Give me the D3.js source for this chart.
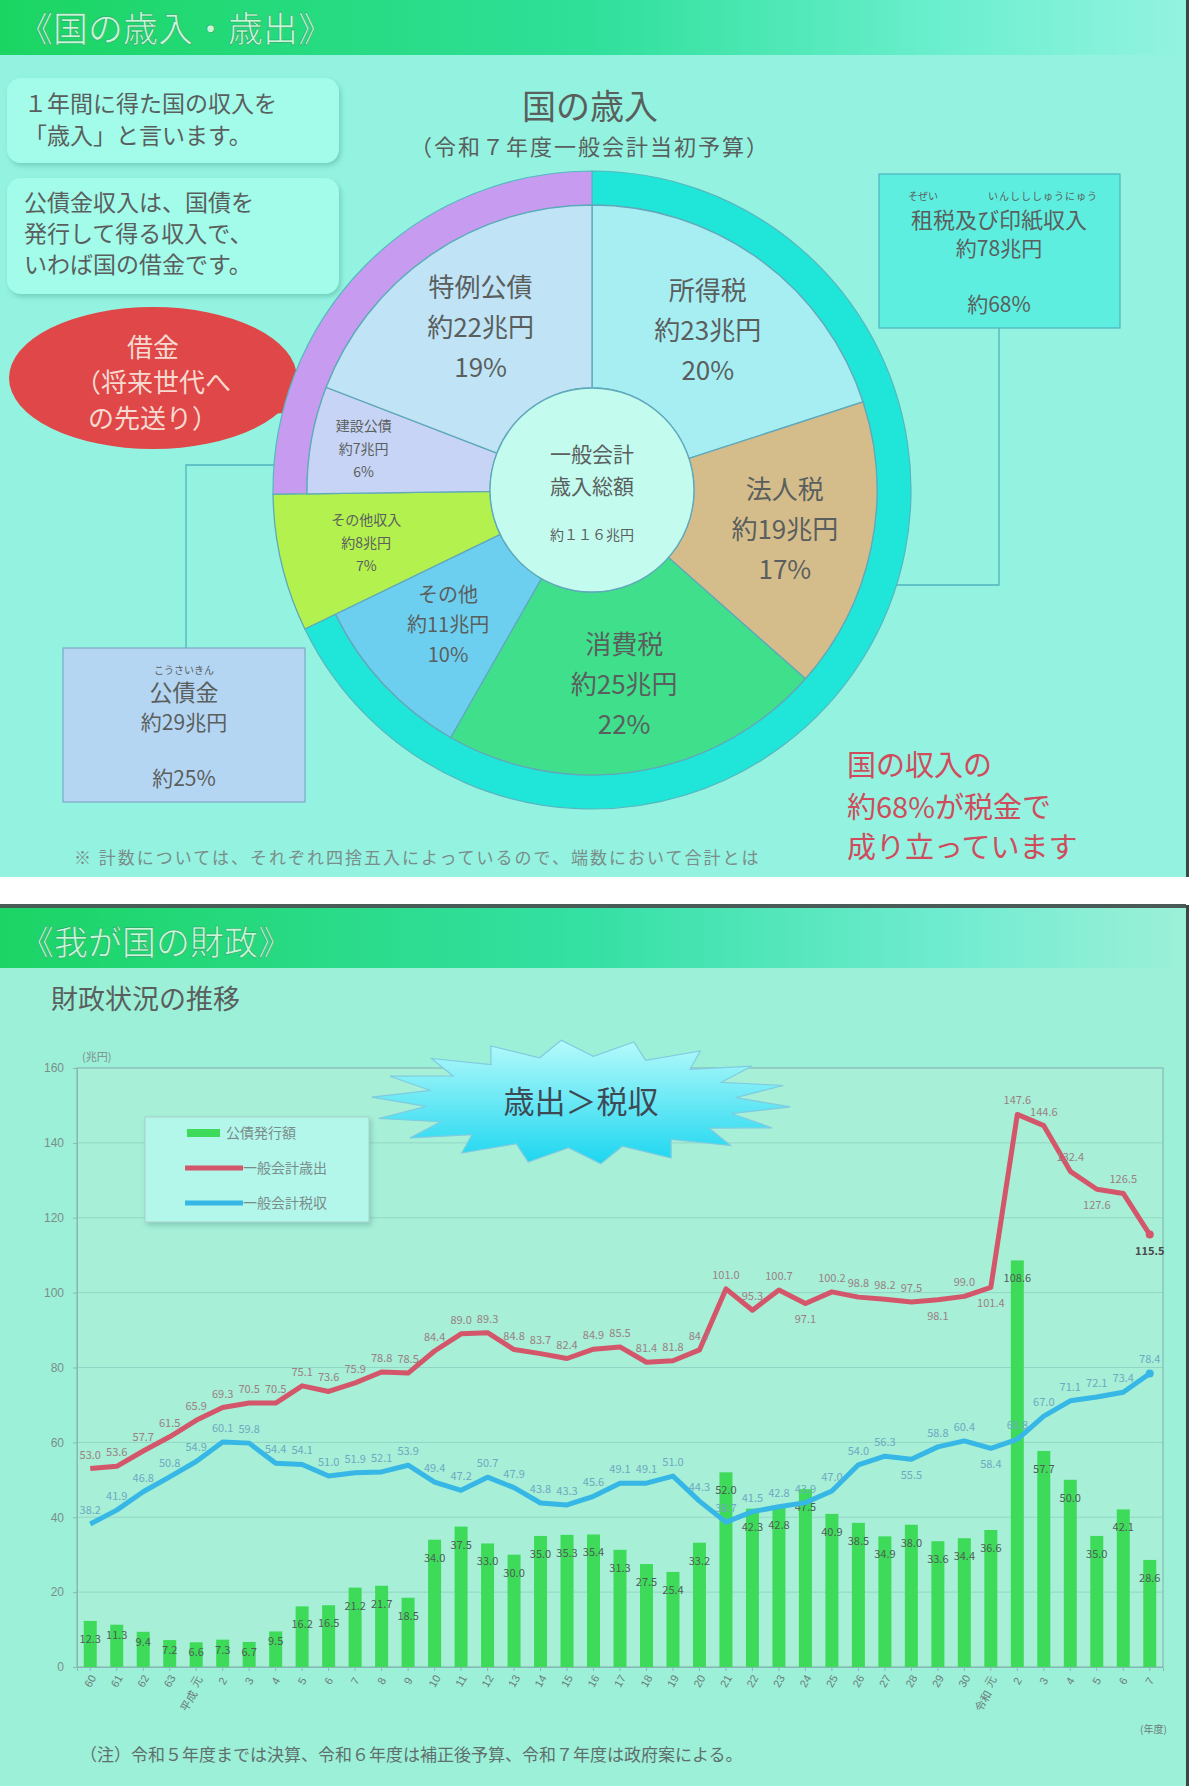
<!DOCTYPE html>
<html><head><meta charset="utf-8">
<script src="https://cdn.jsdelivr.net/npm/d3@7"></script>
<style>
html,body{margin:0;padding:0;background:#fff;}
svg{display:block;font-family:"Noto Sans CJK JP","Noto Sans",sans-serif;}
</style></head><body>
<svg id="c" width="1200" height="1786"></svg>
<script>
// ===== Data: 国の歳入 (令和7年度一般会計当初予算) =====
const revCategories = ["所得税","法人税","消費税","その他","その他収入","建設公債","特例公債"];
const revAmounts    = [23, 19, 25, 11, 8, 7, 22];
const revPercents   = ["20%","17%","22%","10%","7%","6%","19%"];
const revGroups     = ["tax","tax","tax","tax","other","bond","bond"];

// ===== Data: 財政状況の推移 (兆円) =====
const yearLabels = ["60","61","62","63","元","2","3","4","5","6","7","8","9","10","11","12","13","14","15","16","17","18","19","20","21","22","23","24","25","26","27","28","29","30","元","2","3","4","5","6","7"];
const eraLabels  = ["","","","","平成","","","","","","","","","","","","","","","","","","","","","","","","","","","","","","令和","","","","","",""];
const expenditure = [53.0,53.6,57.7,61.5,65.9,69.3,70.5,70.5,75.1,73.6,75.9,78.8,78.5,84.4,89.0,89.3,84.8,83.7,82.4,84.9,85.5,81.4,81.8,84.7,101.0,95.3,100.7,97.1,100.2,98.8,98.2,97.5,98.1,99.0,101.4,147.6,144.6,132.4,127.6,126.5,115.5];
const taxRevenue  = [38.2,41.9,46.8,50.8,54.9,60.1,59.8,54.4,54.1,51.0,51.9,52.1,53.9,49.4,47.2,50.7,47.9,43.8,43.3,45.6,49.1,49.1,51.0,44.3,38.7,41.5,42.8,43.9,47.0,54.0,56.3,55.5,58.8,60.4,58.4,60.8,67.0,71.1,72.1,73.4,78.4];
const bondIssuance= [12.3,11.3,9.4,7.2,6.6,7.3,6.7,9.5,16.2,16.5,21.2,21.7,18.5,34.0,37.5,33.0,30.0,35.0,35.3,35.4,31.3,27.5,25.4,33.2,52.0,42.3,42.8,47.5,40.9,38.5,34.9,38.0,33.6,34.4,36.6,108.6,57.7,50.0,35.0,42.1,28.6];
const yTicks = [0,20,40,60,80,100,120,140,160];
const seriesNames = ["公債発行額","一般会計歳出","一般会計税収"];

// ===== Drawing =====
const svg = d3.select("#c");
const defs = svg.append("defs");
const FONT_GREY = "#5a5f5e";

function lg(id, stops, x2="100%", y2="0%") {
  const g = defs.append("linearGradient").attr("id", id).attr("x1","0%").attr("y1","0%").attr("x2",x2).attr("y2",y2);
  stops.forEach(s => g.append("stop").attr("offset", s[0]).attr("stop-color", s[1]));
}
lg("hdr1", [["0%","#1bd562"],["50%","#2fe09a"],["80%","#6cefcf"],["100%","#93f3e0"]]);
lg("hdr2", [["0%","#1bd464"],["50%","#35e0a4"],["80%","#70ecd0"],["100%","#9cf0d8"]]);
lg("burst", [["0%","#b6fafa"],["100%","#1cd6f0"]], "0%", "100%");
const sh = defs.append("filter").attr("id","shadow").attr("x","-10%").attr("y","-10%").attr("width","130%").attr("height","140%");
sh.append("feDropShadow").attr("dx",2).attr("dy",3).attr("stdDeviation",2.5).attr("flood-color","#3a8f80").attr("flood-opacity",0.35);
defs.append("clipPath").attr("id","clipTop").append("rect").attr("x",0).attr("y",0).attr("width",1186).attr("height",877);

// ---------- TOP SLIDE ----------
const topS = svg.append("g").attr("clip-path","url(#clipTop)");
topS.append("rect").attr("x",0).attr("y",0).attr("width",1186).attr("height",877).attr("fill","#93f3e0");
topS.append("rect").attr("x",0).attr("y",0).attr("width",1186).attr("height",55).attr("fill","url(#hdr1)");
topS.append("text").attr("x",18).attr("y",42).attr("font-size",35).attr("fill","#c6f7d6")
  .attr("stroke","#2aa868").attr("stroke-width",0.6).text("《国の歳入・歳出》");
svg.append("rect").attr("x",1186).attr("y",0).attr("width",3).attr("height",877).attr("fill","#3c4444");

// info boxes
const boxes = [
  {x:7,y:78,w:332,h:85,lines:["１年間に得た国の収入を","「歳入」と言います。"],ly:[112,144]},
  {x:7,y:178,w:332,h:116,lines:["公債金収入は、国債を","発行して得る収入で、","いわば国の借金です。"],ly:[211,242,273]}
];
boxes.forEach(b => {
  topS.append("rect").attr("x",b.x).attr("y",b.y).attr("width",b.w).attr("height",b.h).attr("rx",14)
    .attr("fill","#a3fbea").attr("filter","url(#shadow)");
  b.lines.forEach((t,i) => topS.append("text").attr("x",b.x+17).attr("y",b.ly[i]).attr("font-size",23)
    .attr("fill",FONT_GREY).text(t));
});

// red callout
topS.append("path").attr("d","M262,350 L308,412 L240,415 Z").attr("fill","#df4748");
topS.append("ellipse").attr("cx",153).attr("cy",378).attr("rx",144).attr("ry",71).attr("fill","#df4748");
["借金","（将来世代へ","の先送り）"].forEach((t,i) =>
  topS.append("text").attr("x",153).attr("y",[357,392,428][i]).attr("text-anchor","middle")
    .attr("font-size",26).attr("fill","#f7d9cf").text(t));

// titles
topS.append("text").attr("x",590).attr("y",119).attr("text-anchor","middle").attr("font-size",34).attr("fill",FONT_GREY).text("国の歳入");
topS.append("text").attr("x",590).attr("y",155).attr("text-anchor","middle").attr("font-size",22).attr("fill",FONT_GREY)
  .attr("letter-spacing",2).text("（令和７年度一般会計当初予算）");

// donut
const cx = 592, cy = 490, rIn = 102, rMid = 285, rOut = 319;
const pie = d3.pie().sort(null).value(d => d)(revAmounts);
const sliceColors = {"所得税":"#a6eef2","法人税":"#d5bd8b","消費税":"#3fdf8c","その他":"#6dcff0","その他収入":"#b3f14f","建設公債":"#c7d4f5","特例公債":"#c0e3f5"};
const pg = topS.append("g").attr("transform",`translate(${cx},${cy})`);
function groupSpan(g) {
  const s = pie.filter((p,i) => revGroups[i] === g);
  return {startAngle: d3.min(s, d => d.startAngle), endAngle: d3.max(s, d => d.endAngle)};
}
const ringArc = d3.arc().innerRadius(rMid).outerRadius(rOut);
pg.append("path").attr("d", ringArc(groupSpan("tax"))).attr("fill","#1fe6d8").attr("stroke","#56b7c0").attr("stroke-width",1.2);
pg.append("path").attr("d", ringArc(groupSpan("bond"))).attr("fill","#c79cf0").attr("stroke","#56b7c0").attr("stroke-width",1.2);
pg.selectAll("path.slice").data(pie).join("path").attr("class","slice")
  .attr("d", (d,i) => d3.arc().innerRadius(rIn).outerRadius(revGroups[i]==="other" ? rOut : rMid)(d))
  .attr("fill", (d,i) => sliceColors[revCategories[i]]).attr("stroke","#5fa9bb").attr("stroke-width",1.3);
pg.append("circle").attr("r",rIn).attr("fill","#c4fbef").attr("stroke","#5fa9bb").attr("stroke-width",1.3);
pg.append("text").attr("y",-28).attr("text-anchor","middle").attr("font-size",21).attr("fill",FONT_GREY).text("一般会計");
pg.append("text").attr("y",4).attr("text-anchor","middle").attr("font-size",21).attr("fill",FONT_GREY).text("歳入総額");
pg.append("text").attr("y",50).attr("text-anchor","middle").attr("font-size",14).attr("fill",FONT_GREY).text("約１１６兆円");
pie.forEach((d,i) => {
  const amt = revAmounts[i];
  const big = amt >= 15, mid = amt >= 10 && amt < 15;
  const fs = big ? 26 : mid ? 20 : 14;
  const lh = big ? 40 : mid ? 30 : 23;
  const r = big || mid ? 197 : 232;
  const a = (d.startAngle + d.endAngle) / 2;
  const lx = r * Math.sin(a), ly = -r * Math.cos(a);
  const lines = [revCategories[i], "約" + amt + "兆円", revPercents[i]];
  lines.forEach((t,k) => pg.append("text").attr("x",lx).attr("y",ly + (k-1)*lh + fs*0.36)
    .attr("text-anchor","middle").attr("font-size",fs).attr("fill",FONT_GREY).text(t));
});

// tax box (right)
const tb = {x:879,y:174,w:241,h:154};
topS.append("rect").attr("x",tb.x).attr("y",tb.y).attr("width",tb.w).attr("height",tb.h).attr("fill","#5eeedf").attr("stroke","#4fb4be").attr("stroke-width",1.2);
topS.append("text").attr("x",908).attr("y",200).attr("font-size",10).attr("fill",FONT_GREY).text("そぜい");
topS.append("text").attr("x",988).attr("y",200).attr("font-size",10).attr("fill",FONT_GREY).attr("letter-spacing",1).text("いんしししゅうにゅう");
topS.append("text").attr("x",999).attr("y",228).attr("text-anchor","middle").attr("font-size",22).attr("fill",FONT_GREY).text("租税及び印紙収入");
topS.append("text").attr("x",999).attr("y",256).attr("text-anchor","middle").attr("font-size",21).attr("fill",FONT_GREY).text("約78兆円");
topS.append("text").attr("x",999).attr("y",312).attr("text-anchor","middle").attr("font-size",21).attr("fill",FONT_GREY).text("約68%");
const yConR = 585, xConR = cx + Math.sqrt(rOut*rOut - (yConR-cy)*(yConR-cy));
topS.append("path").attr("d",`M999,328 V${yConR} H${xConR}`).attr("fill","none").attr("stroke","#4fb4be").attr("stroke-width",1.3);

// bond box (left)
const bb = {x:63,y:648,w:242,h:154};
topS.append("rect").attr("x",bb.x).attr("y",bb.y).attr("width",bb.w).attr("height",bb.h).attr("fill","#b5d6f3").attr("stroke","#7fa7c8").attr("stroke-width",1.2);
topS.append("text").attr("x",184).attr("y",674).attr("text-anchor","middle").attr("font-size",10).attr("fill",FONT_GREY).text("こうさいきん");
topS.append("text").attr("x",184).attr("y",701).attr("text-anchor","middle").attr("font-size",23).attr("fill",FONT_GREY).text("公債金");
topS.append("text").attr("x",184).attr("y",730).attr("text-anchor","middle").attr("font-size",21).attr("fill",FONT_GREY).text("約29兆円");
topS.append("text").attr("x",184).attr("y",786).attr("text-anchor","middle").attr("font-size",21).attr("fill",FONT_GREY).text("約25%");
const yConL = 465, xConL = cx - Math.sqrt(rOut*rOut - (yConL-cy)*(yConL-cy));
topS.append("path").attr("d",`M186,648 V${yConL} H${xConL}`).attr("fill","none").attr("stroke","#4fb4be").attr("stroke-width",1.3);

// red message
["国の収入の","約68%が税金で","成り立っています"].forEach((t,i) =>
  topS.append("text").attr("x",847).attr("y",[776,818,858][i]).attr("font-size",29).attr("fill","#cf4c5c").text(t));
// footnote (second line is cut off by the slide edge, as in the photo)
topS.append("text").attr("x",74).attr("y",864).attr("font-size",17).attr("fill","#7b8d8a").attr("letter-spacing",2)
  .text("※ 計数については、それぞれ四捨五入によっているので、端数において合計とは");
topS.append("text").attr("x",96).attr("y",892).attr("font-size",17).attr("fill","#7b8d8a").attr("letter-spacing",2)
  .text("合致しないものがある。");

// ---------- BOTTOM SLIDE ----------
const bot = svg.append("g");
bot.append("rect").attr("x",0).attr("y",905).attr("width",1186).attr("height",881).attr("fill","#9cf0d8");
bot.append("rect").attr("x",0).attr("y",904).attr("width",1186).attr("height",4).attr("fill","#4a5a56");
svg.append("rect").attr("x",1186).attr("y",905).attr("width",3).attr("height",881).attr("fill","#3c4444");
bot.append("rect").attr("x",0).attr("y",908).attr("width",1186).attr("height",60).attr("fill","url(#hdr2)");
bot.append("text").attr("x",20).attr("y",955).attr("font-size",34).attr("fill","#c6f7d6")
  .attr("stroke","#2aa868").attr("stroke-width",0.6).text("《我が国の財政》");
bot.append("text").attr("x",51).attr("y",1009).attr("font-size",27).attr("fill",FONT_GREY).text("財政状況の推移");

// chart
const P = {l:77, r:1163, t:1068, b:1667};
const x = d3.scaleBand().domain(d3.range(yearLabels.length)).range([P.l, P.r]).padding(0);
const xc = i => x(i) + x.bandwidth()/2;
const y = d3.scaleLinear().domain([0,160]).range([P.b, P.t]);

bot.append("rect").attr("x",P.l).attr("y",P.t).attr("width",P.r-P.l).attr("height",P.b-P.t)
  .attr("fill","#a7efd7").attr("stroke","#86b9b4").attr("stroke-width",1.2);
bot.append("g").selectAll("line").data(yTicks.slice(1,-1)).join("line")
  .attr("x1",P.l).attr("x2",P.r).attr("y1",d=>y(d)).attr("y2",d=>y(d))
  .attr("stroke","#86c4b8").attr("stroke-width",1).attr("opacity",0.6);
const yAxis = bot.append("g").attr("transform",`translate(${P.l},0)`)
  .call(d3.axisLeft(y).tickValues(yTicks).tickSize(4).tickFormat(d3.format("d")));
yAxis.selectAll("text").attr("font-size",12).attr("fill","#7a8f8b").attr("dx",-6);
yAxis.selectAll("line,path").attr("stroke","#86b9b4");
bot.append("text").attr("x",82).attr("y",1061).attr("font-size",11).attr("fill","#7a8f8b").text("(兆円)");

// burst
const bcx = 581, bcy = 1102, brx = 210, bry = 62;
const spikes = 18;
const burstPts = d3.range(spikes*2).map(k => {
  const a = k * Math.PI / spikes + 0.08;
  const r = k % 2 === 0 ? 1 : 0.74;
  return [bcx + brx*r*Math.cos(a), bcy + bry*r*Math.sin(a)];
});
bot.append("path").attr("d", d3.line()(burstPts) + "Z").attr("fill","url(#burst)").attr("stroke","#7fcbe0").attr("stroke-width",1.2);
bot.append("text").attr("x",bcx).attr("y",bcy+11).attr("text-anchor","middle").attr("font-size",31).attr("fill","#3d4a55").text("歳出＞税収");

// bars
const barW = 13;
bot.append("g").selectAll("rect").data(bondIssuance).join("rect")
  .attr("x",(d,i)=>xc(i)-barW/2).attr("width",barW).attr("y",d=>y(d)).attr("height",d=>y(0)-y(d))
  .attr("fill","#3edb5b");
bot.append("g").selectAll("text").data(bondIssuance).join("text")
  .attr("x",(d,i)=>xc(i)).attr("y",d=>y(d)+ (d < 12 ? 14 : 22)).attr("text-anchor","middle")
  .attr("font-size",11).attr("fill","#4c5e55").text(d=>d.toFixed(1));

// lines
const line = d3.line().x((d,i)=>xc(i)).y(d=>y(d));
bot.append("path").attr("d",line(taxRevenue)).attr("fill","none").attr("stroke","#36b7e6").attr("stroke-width",5).attr("stroke-linejoin","round");
bot.append("path").attr("d",line(expenditure)).attr("fill","none").attr("stroke","#d4566a").attr("stroke-width",5).attr("stroke-linejoin","round");
bot.append("circle").attr("cx",xc(40)).attr("cy",y(expenditure[40])).attr("r",4).attr("fill","#d4566a");
bot.append("circle").attr("cx",xc(40)).attr("cy",y(taxRevenue[40])).attr("r",4).attr("fill","#36b7e6");

const expBelow = new Set([27,32,34,38,40]);
bot.append("g").selectAll("text").data(expenditure).join("text")
  .attr("x",(d,i)=>xc(i)).attr("y",(d,i)=> expBelow.has(i) ? y(d)+20 : y(d)-10).attr("text-anchor","middle")
  .attr("font-size",11).attr("fill",(d,i)=> i===40 ? "#4a4a4a" : "#9a7f84").attr("font-weight",(d,i)=>i===40?"bold":"normal")
  .text(d=>d.toFixed(1));
const taxBelow = new Set([31,34]);
bot.append("g").selectAll("text").data(taxRevenue).join("text")
  .attr("x",(d,i)=>xc(i)).attr("y",(d,i)=> taxBelow.has(i) ? y(d)+20 : y(d)-10).attr("text-anchor","middle")
  .attr("font-size",11).attr("fill","#6ea9c2").text(d=>d.toFixed(1));

// x axis
const xAxis = bot.append("g").attr("transform",`translate(0,${P.b})`)
  .call(d3.axisBottom(x).tickSize(4).tickFormat(i=>yearLabels[i]));
xAxis.selectAll("line,path").attr("stroke","#86b9b4");
xAxis.selectAll("text").attr("font-size",11).attr("fill","#6a7c78")
  .attr("transform","translate(0,14) rotate(-60)").attr("text-anchor","middle").attr("dy","0.35em").attr("y",0);
eraLabels.forEach((t,i) => {
  if (!t) return;
  bot.append("text").attr("transform",`translate(${xc(i)-4},${P.b+36}) rotate(-60)`)
    .attr("text-anchor","middle").attr("font-size",11).attr("fill","#6a7c78").text(t);
});
bot.append("text").attr("x",1140).attr("y",1733).attr("font-size",10).attr("fill","#6a7c78").text("(年度)");

// legend
const lgG = bot.append("g");
lgG.append("rect").attr("x",145).attr("y",1117).attr("width",224).attr("height",105).attr("fill","#b2f7ea").attr("stroke","#a6d0cc").attr("filter","url(#shadow)");
lgG.append("rect").attr("x",187).attr("y",1129).attr("width",33).attr("height",8).attr("fill","#3edb5b");
lgG.append("line").attr("x1",185).attr("x2",243).attr("y1",1168).attr("y2",1168).attr("stroke","#d4566a").attr("stroke-width",5);
lgG.append("line").attr("x1",185).attr("x2",243).attr("y1",1203).attr("y2",1203).attr("stroke","#36b7e6").attr("stroke-width",5);
[[226,1138],[243,1173],[243,1208]].forEach((p,i) =>
  lgG.append("text").attr("x",p[0]).attr("y",p[1]).attr("font-size",14).attr("fill","#7a8c8a").text(seriesNames[i]));

// note
bot.append("text").attr("x",80).attr("y",1761).attr("font-size",17).attr("fill","#5f6f6c")
  .text("（注）令和５年度までは決算、令和６年度は補正後予算、令和７年度は政府案による。");
</script>
</body></html>
